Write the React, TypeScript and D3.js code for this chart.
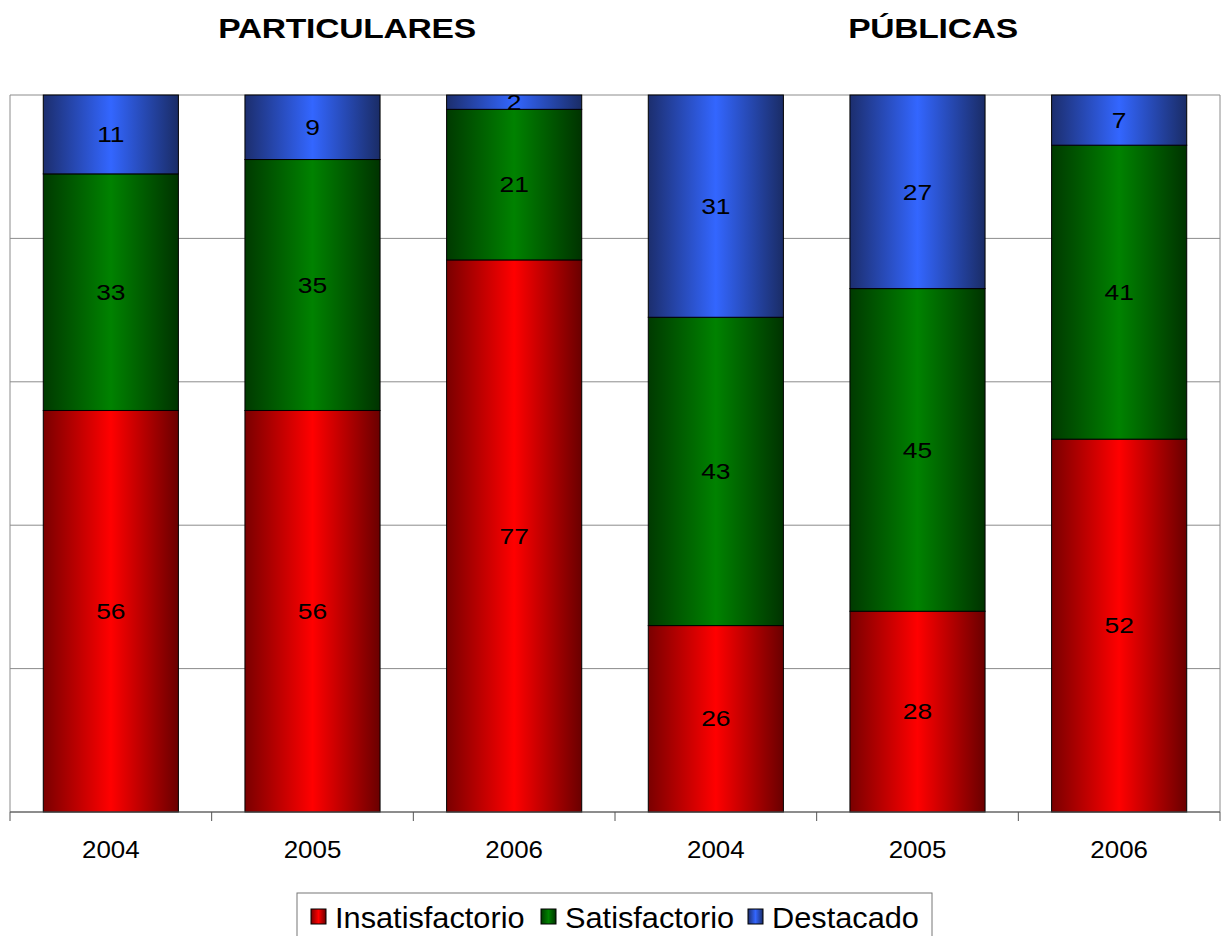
import React from "react";
import * as d3 from "d3";

const categories = ["P2004", "P2005", "P2006", "U2004", "U2005", "U2006"];
const yearLabels = ["2004", "2005", "2006", "2004", "2005", "2006"];
const insatisfactorio = [56, 56, 77, 26, 28, 52];
const satisfactorio = [33, 35, 21, 43, 45, 41];
const destacado = [11, 9, 2, 31, 27, 7];
const seriesNames = ["Insatisfactorio", "Satisfactorio", "Destacado"];
const groupTitles = ["PARTICULARES", "PÚBLICAS"];

const W = 1221;
const H = 936;
const left = 10;
const right = 1220;
const top = 95;
const bottom = 812;

const gradients = [
  { id: "gRed", edgeL: "#7a0000", mid: "#ff0000", edgeR: "#6a0000" },
  { id: "gGreen", edgeL: "#003a00", mid: "#008200", edgeR: "#003300" },
  { id: "gBlue", edgeL: "#1c2e6e", mid: "#3366ff", edgeR: "#1a2c66" },
];

export default function App() {
  const rows = categories.map((c, i) => ({
    cat: c,
    Insatisfactorio: insatisfactorio[i],
    Satisfactorio: satisfactorio[i],
    Destacado: destacado[i],
  }));
  const stack = d3.stack<any>().keys(seriesNames)(rows);
  const x = d3
    .scaleBand<string>()
    .domain(categories)
    .range([left, right])
    .paddingInner(0.33)
    .paddingOuter(0.165);
  const y = d3.scaleLinear().domain([0, 100]).range([bottom, top]);
  const step = (right - left) / categories.length;
  const ticks = d3.range(0, 101, 20);
  const font = "'Liberation Sans', Arial, sans-serif";

  const legendItems = [
    { sw: 311, tx: 335 },
    { sw: 541, tx: 565 },
    { sw: 748, tx: 772 },
  ];

  return (
    <svg
      width={W}
      height={H}
      style={{ position: "absolute", left: 0, top: 0, background: "#fff" }}
      fontFamily={font}
    >
      <defs>
        {gradients.map((g) => (
          <linearGradient key={g.id} id={g.id} x1="0" x2="1" y1="0" y2="0">
            <stop offset="0" stopColor={g.edgeL} />
            <stop offset="0.5" stopColor={g.mid} />
            <stop offset="1" stopColor={g.edgeR} />
          </linearGradient>
        ))}
      </defs>
      <rect x={0} y={0} width={W} height={H} fill="#fff" />

      {/* titles */}
      <text
        transform={`translate(347,38) scale(1.2,1)`}
        textAnchor="middle"
        fontWeight="bold"
        fontSize={28}
        letterSpacing={-0.2}
      >
        {groupTitles[0]}
      </text>
      <text
        transform={`translate(933,38) scale(1.2,1)`}
        textAnchor="middle"
        fontWeight="bold"
        fontSize={28}
        letterSpacing={-0.2}
      >
        {groupTitles[1]}
      </text>

      {/* gridlines */}
      {ticks.map((t) => (
        <line
          key={t}
          x1={left}
          x2={right}
          y1={y(t)}
          y2={y(t)}
          stroke="#8c8c8c"
          strokeWidth={1}
        />
      ))}
      <line x1={left} x2={left} y1={top} y2={bottom} stroke="#8c8c8c" />
      <line x1={right} x2={right} y1={top} y2={bottom} stroke="#8c8c8c" />

      {/* bars */}
      {stack.map((s, si) => (
        <g key={s.key}>
          {s.map((d, i) => (
            <rect
              key={i}
              x={x(categories[i])}
              y={y(d[1])}
              width={x.bandwidth()}
              height={y(d[0]) - y(d[1])}
              fill={`url(#${gradients[si].id})`}
              stroke="#000"
              strokeWidth={1}
            />
          ))}
        </g>
      ))}

      {/* data labels */}
      {stack.map((s) =>
        s.map((d, i) => (
          <text
            key={s.key + i}
            transform={`translate(${x(categories[i])! + x.bandwidth() / 2},${
              (y(d[0]) + y(d[1])) / 2
            }) scale(1.2,1)`}
            textAnchor="middle"
            dy="0.35em"
            fontSize={22}
            fill="#000"
          >
            {d.data[s.key]}
          </text>
        ))
      )}

      {/* x axis */}
      <line x1={left} x2={right} y1={bottom} y2={bottom} stroke="#555" strokeWidth={1.2} />
      {d3.range(categories.length + 1).map((k) => (
        <line
          key={k}
          x1={left + k * step}
          x2={left + k * step}
          y1={bottom}
          y2={bottom + 9}
          stroke="#555"
        />
      ))}
      {categories.map((c, i) => (
        <text
          key={c}
          transform={`translate(${x(c)! + x.bandwidth() / 2},858) scale(1.08,1)`}
          textAnchor="middle"
          fontSize={24}
        >
          {yearLabels[i]}
        </text>
      ))}

      {/* legend */}
      <rect x={297} y={893} width={635} height={60} fill="#fff" stroke="#777" />
      {seriesNames.map((n, i) => (
        <g key={n}>
          <rect
            x={legendItems[i].sw}
            y={909}
            width={15}
            height={15}
            fill={`url(#${gradients[i].id})`}
            stroke="#000"
          />
          <text
            transform={`translate(${legendItems[i].tx},928) scale(1.06,1)`}
            fontSize={29}
          >
            {n}
          </text>
        </g>
      ))}
    </svg>
  );
}
